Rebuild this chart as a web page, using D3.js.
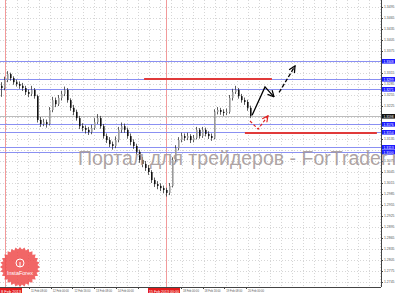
<!DOCTYPE html>
<html><head><meta charset="utf-8">
<script src="https://cdn.jsdelivr.net/npm/d3@7"></script>
<style>html,body{margin:0;padding:0;background:#fff;overflow:hidden}</style>
</head><body><svg id="c" width="395" height="293"></svg>
<script>
// ---- data ----
const opens  = [1.3280,1.3274,1.3296,1.3312,1.3301,1.3290,1.3285,1.3280,1.3274,1.3263,1.3258,1.3269,1.3252,1.3187,1.3176,1.3181,1.3176,1.3214,1.3241,1.3230,1.3247,1.3258,1.3269,1.3241,1.3220,1.3209,1.3192,1.3170,1.3165,1.3160,1.3154,1.3165,1.3181,1.3192,1.3170,1.3143,1.3132,1.3121,1.3116,1.3132,1.3160,1.3170,1.3160,1.3143,1.3127,1.3116,1.3100,1.3078,1.3067,1.3056,1.3045,1.3023,1.3012,1.3007,1.3001,1.2996,1.2988,1.3007,1.3078,1.3110,1.3132,1.3143,1.3138,1.3143,1.3132,1.3138,1.3160,1.3143,1.3160,1.3149,1.3143,1.3138,1.3209,1.3214,1.3209,1.3206,1.3209,1.3247,1.3263,1.3269,1.3252,1.3241,1.3236,1.3220];
const closes = [1.3274,1.3296,1.3312,1.3301,1.3290,1.3285,1.3280,1.3274,1.3263,1.3258,1.3269,1.3252,1.3187,1.3176,1.3181,1.3176,1.3214,1.3241,1.3230,1.3247,1.3258,1.3269,1.3241,1.3220,1.3209,1.3192,1.3170,1.3165,1.3160,1.3154,1.3165,1.3181,1.3192,1.3170,1.3143,1.3132,1.3121,1.3116,1.3132,1.3160,1.3170,1.3160,1.3143,1.3127,1.3116,1.3100,1.3078,1.3067,1.3056,1.3045,1.3023,1.3012,1.3007,1.3001,1.2996,1.2988,1.3007,1.3078,1.3110,1.3132,1.3143,1.3138,1.3143,1.3132,1.3138,1.3160,1.3143,1.3160,1.3149,1.3143,1.3138,1.3209,1.3214,1.3209,1.3206,1.3209,1.3247,1.3263,1.3269,1.3252,1.3241,1.3236,1.3220,1.3198];
const highs  = [1.3290,1.3305,1.3320,1.3316,1.3306,1.3297,1.3292,1.3288,1.3280,1.3270,1.3280,1.3274,1.3256,1.3195,1.3190,1.3188,1.3222,1.3250,1.3248,1.3255,1.3266,1.3278,1.3274,1.3246,1.3228,1.3215,1.3198,1.3178,1.3172,1.3168,1.3174,1.3192,1.3203,1.3198,1.3176,1.3150,1.3140,1.3128,1.3142,1.3168,1.3180,1.3177,1.3166,1.3150,1.3134,1.3122,1.3106,1.3086,1.3075,1.3064,1.3050,1.3030,1.3020,1.3014,1.3008,1.3002,1.3015,1.3085,1.3118,1.3140,1.3152,1.3150,1.3152,1.3148,1.3146,1.3168,1.3165,1.3168,1.3166,1.3156,1.3150,1.3216,1.3222,1.3220,1.3216,1.3218,1.3255,1.3272,1.3280,1.3274,1.3258,1.3248,1.3242,1.3226];
const lows   = [1.3250,1.3268,1.3290,1.3294,1.3283,1.3278,1.3272,1.3266,1.3255,1.3249,1.3252,1.3245,1.3180,1.3168,1.3170,1.3166,1.3172,1.3208,1.3222,1.3225,1.3240,1.3252,1.3234,1.3212,1.3200,1.3185,1.3162,1.3156,1.3150,1.3146,1.3148,1.3160,1.3176,1.3163,1.3136,1.3124,1.3113,1.3106,1.3110,1.3126,1.3152,1.3152,1.3136,1.3118,1.3108,1.3092,1.3070,1.3058,1.3048,1.3037,1.3015,1.3004,1.2998,1.2993,1.2987,1.2978,1.2982,1.3003,1.3072,1.3104,1.3126,1.3130,1.3132,1.3124,1.3126,1.3134,1.3136,1.3138,1.3142,1.3135,1.3130,1.3134,1.3202,1.3201,1.3198,1.3200,1.3204,1.3240,1.3258,1.3245,1.3234,1.3228,1.3212,1.3192];
const priceTicks = [1.2745,1.2775,1.2805,1.2835,1.2865,1.2895,1.2925,1.2955,1.2985,1.3015,1.3045,1.3075,1.3105,1.3135,1.3165,1.3195,1.3225,1.3255,1.3285,1.3315,1.3345,1.3375,1.3405,1.3435,1.3465,1.3495];
const levels = [1.3348,1.3299,1.3271,1.3176,1.3154,1.3113,1.3100];
const currentPrice = 1.3198;
const redLevels = [{p:1.3299,from:47.7,to:90.3},{p:1.3152,from:81.3,to:125.3}];
const timeLabels = ["11 Feb 08:00","12 Feb 00:00","12 Feb 16:00","13 Feb 08:00","14 Feb 00:00","14 Feb 16:00","15 Feb 08:00","18 Feb 00:00","18 Feb 16:00","19 Feb 08:00","20 Feb 00:00"];
const markers = [{label:"8 Feb 2013",i:1.4},{label:"15 Feb 2013 00:00",i:55}];
const blackPath1 = [[83.7,1.3200],[88,1.3277],[91,1.3250]];
const blackPath2 = [[92.7,1.3262],[98,1.3334]];
const redPath = [[83,1.3184],[85.7,1.3162],[89,1.3198]];

// ---- layout ----
const plotR=381, plotB=287;
const FONT="Liberation Sans, Arial, sans-serif";
const svg=d3.select("#c");
const x=d3.scaleLinear().domain([0,83]).range([1,250]);
const y=d3.scaleLinear().domain([1.2745,1.3495]).range([282,7]);

const defs=svg.append("defs");
defs.append("clipPath").attr("id","plot").append("rect").attr("x",0).attr("y",0).attr("width",plotR).attr("height",plotB);
function arrow(id,color){
  defs.append("marker").attr("id",id).attr("viewBox","0 0 10 10").attr("refX",9).attr("refY",5)
   .attr("markerWidth",6).attr("markerHeight",6).attr("orient","auto-start-reverse")
   .append("path").attr("d","M1,1 L9,5 L1,9").attr("fill","none").attr("stroke",color).attr("stroke-width",1.6);
}
arrow("ab","#000"); arrow("ar","#e02020");

const g=svg.append("g").attr("clip-path","url(#plot)");
// grid
const gx=d3.range(6,plotR,11);
g.selectAll(".vg").data(gx).join("line").attr("x1",d=>d+0.5).attr("x2",d=>d+0.5).attr("y1",0).attr("y2",plotB)
 .attr("stroke","#d6d6d6").attr("stroke-dasharray","1,2");
g.selectAll(".hg").data(priceTicks).join("line").attr("x1",0).attr("x2",plotR)
 .attr("y1",d=>Math.round(y(d))+0.5).attr("y2",d=>Math.round(y(d))+0.5)
 .attr("stroke","#d6d6d6").attr("stroke-dasharray","1,2");

// red day markers
g.selectAll(".mk").data(markers).join("line").attr("x1",d=>Math.round(x(d.i))+0.5).attr("x2",d=>Math.round(x(d.i))+0.5)
 .attr("y1",0).attr("y2",plotB).attr("stroke","#f29a9a").attr("stroke-width",1);

// blue levels
g.selectAll(".lv").data(levels).join("line").attr("x1",0).attr("x2",plotR)
 .attr("y1",d=>Math.round(y(d))+0.5).attr("y2",d=>Math.round(y(d))+0.5).attr("stroke","#8a90f2").attr("stroke-width",1);
g.append("line").attr("x1",0).attr("x2",plotR).attr("y1",Math.round(y(currentPrice))+0.5).attr("y2",Math.round(y(currentPrice))+0.5)
 .attr("stroke","#bcbcbc");

// red levels
g.selectAll(".rl").data(redLevels).join("line").attr("x1",d=>x(d.from)).attr("x2",d=>x(d.to))
 .attr("y1",d=>Math.round(y(d.p))).attr("y2",d=>Math.round(y(d.p))).attr("stroke","#e03a3a").attr("stroke-width",2);

// bars
const idx=d3.range(closes.length);
const bars=g.selectAll(".bar").data(idx).join("g");
bars.append("line").attr("x1",i=>Math.round(x(i))+0.5).attr("x2",i=>Math.round(x(i))+0.5)
 .attr("y1",i=>y(highs[i])).attr("y2",i=>y(lows[i])).attr("stroke","#333").attr("stroke-width",0.8);
bars.append("rect").attr("x",i=>Math.round(x(i))).attr("width",1.6)
 .attr("y",i=>y(Math.max(opens[i],closes[i])))
 .attr("height",i=>Math.max(1,Math.abs(y(opens[i])-y(closes[i]))))
 .attr("fill",i=>closes[i]>=opens[i]?"#9a9a9a":"#111");

// forecast arrows
const ln=d3.line().x(d=>x(d[0])).y(d=>y(d[1]));
g.append("path").attr("d",ln(blackPath1)).attr("fill","none").attr("stroke","#000").attr("stroke-width",1.3).attr("marker-end","url(#ab)");
g.append("path").attr("d",ln(blackPath2)).attr("fill","none").attr("stroke","#000").attr("stroke-width",1.3).attr("stroke-dasharray","4,2").attr("marker-end","url(#ab)");
g.append("path").attr("d",ln(redPath)).attr("fill","none").attr("stroke","#e02020").attr("stroke-width",1.2).attr("stroke-dasharray","3,2").attr("marker-end","url(#ar)");

// InstaForex logo
const lg=svg.append("g").attr("transform","translate(20,267)");
const teeth=28, rO=20, rI=17.5;
const pts=d3.range(teeth*2).map(k=>{const a=k*Math.PI/teeth, r=k%2?rI:rO; return [r*Math.cos(a),r*Math.sin(a)];});
lg.append("path").attr("d","M"+pts.join("L")+"Z").attr("fill","#ef4b4b").attr("fill-opacity",0.85);
lg.append("circle").attr("cy",-4).attr("r",4).attr("fill","none").attr("stroke","#fff").attr("stroke-width",1);
lg.append("line").attr("x1",0).attr("x2",0).attr("y1",-5).attr("y2",0).attr("stroke","#fff");
lg.append("text").attr("y",8).attr("text-anchor","middle").attr("font-family",FONT)
 .attr("font-size",5.5).attr("fill","#fff").text("InstaForex");

// axes frame
svg.append("line").attr("x1",plotR+0.5).attr("x2",plotR+0.5).attr("y1",0).attr("y2",plotB).attr("stroke","#444");
svg.append("line").attr("x1",0).attr("x2",plotR).attr("y1",plotB+0.5).attr("y2",plotB+0.5).attr("stroke","#444");

// price axis (tick labels hidden where a level box covers them, as in the terminal)
const boxYs=levels.concat([currentPrice]).map(p=>y(p));
const visibleTicks=priceTicks.filter(t=>boxYs.every(b=>Math.abs(b-y(t))>4.5));
const pa=svg.append("g").attr("font-family",FONT).attr("font-size",3.6);
pa.selectAll("text").data(visibleTicks).join("text").attr("x",plotR+3).attr("y",d=>y(d)+1.3).attr("fill","#555")
 .attr("textLength",10.5).attr("lengthAdjust","spacingAndGlyphs").text(d=>d.toFixed(4));
pa.selectAll(".tk").data(priceTicks).join("line").attr("x1",plotR).attr("x2",plotR+2)
 .attr("y1",d=>Math.round(y(d))+0.5).attr("y2",d=>Math.round(y(d))+0.5).attr("stroke","#444");
const boxes=svg.append("g").attr("font-family",FONT).attr("font-size",3.4);
const bl=boxes.selectAll(".bx").data(levels).join("g").attr("transform",d=>`translate(${plotR+1},${Math.round(y(d))-2})`);
bl.append("rect").attr("width",13).attr("height",4.6).attr("fill","#1a1aff");
bl.append("text").attr("x",1.5).attr("y",3.6).attr("fill","#fff").attr("textLength",10).attr("lengthAdjust","spacingAndGlyphs").text(d=>d.toFixed(4));
const cb=boxes.append("g").attr("transform",`translate(${plotR+1},${Math.round(y(currentPrice))-2})`);
cb.append("rect").attr("width",13).attr("height",4.6).attr("fill","#111");
cb.append("text").attr("x",1.5).attr("y",3.6).attr("fill","#fff").attr("textLength",10).attr("lengthAdjust","spacingAndGlyphs").text(currentPrice.toFixed(4));

// watermark (overlays the whole window, running past the price scale as in the reference)
svg.append("text").attr("x",78).attr("y",165).attr("font-family",FONT)
 .attr("font-size",19.5).attr("fill","#a39898").attr("fill-opacity",0.9).text("Портал для трейдеров - ForTrader.ru");

// time axis (labels under the red marker boxes are hidden, as in the terminal)
const tx=d3.scaleLinear().domain([0,timeLabels.length-1]).range([29,246]);
const boxW=(d,i)=>i?32:22;
const boxX=d=>d.i<5?0:Math.round(x(d.i))-18;
const covered=xx=>markers.some((m,k)=>xx+16>boxX(m)+2 && xx<boxX(m)+boxW(m,k));
const tl=timeLabels.map((t,i)=>({t,xx:tx(i)+2})).filter(d=>!covered(d.xx));
const ta=svg.append("g").attr("font-family",FONT).attr("font-size",3.6);
ta.selectAll(".tl").data(tl).join("text").attr("x",d=>d.xx).attr("y",plotB+4.8).attr("fill","#555")
 .attr("textLength",16).attr("lengthAdjust","spacingAndGlyphs").text(d=>d.t);
ta.selectAll(".tt").data(timeLabels).join("line").attr("x1",(d,i)=>Math.round(tx(i))+0.5).attr("x2",(d,i)=>Math.round(tx(i))+0.5)
 .attr("y1",plotB).attr("y2",plotB+2).attr("stroke","#444");
const mb=ta.selectAll(".mb").data(markers).join("g").attr("transform",d=>`translate(${boxX(d)},${plotB+1})`);
mb.append("rect").attr("width",boxW).attr("height",6).attr("fill","#e31b1b");
mb.append("text").attr("x",1).attr("y",4.5).attr("fill","#fff").attr("textLength",(d,i)=>i?30:20)
 .attr("lengthAdjust","spacingAndGlyphs").text(d=>d.label);
</script></body></html>
